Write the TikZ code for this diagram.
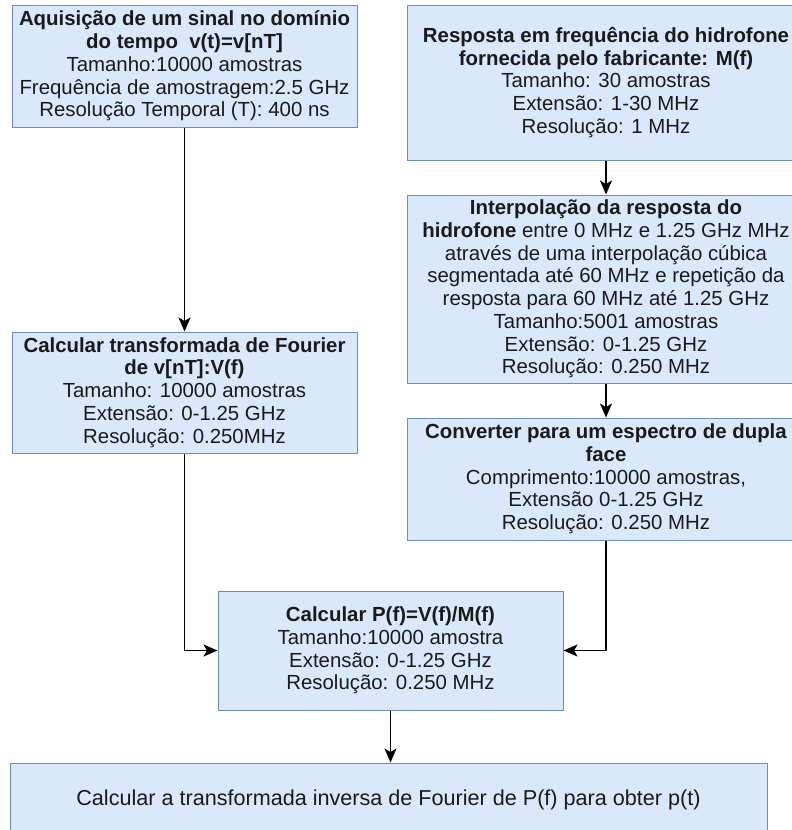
\documentclass[tikz,border=0pt]{standalone}
\usepackage{fontspec}
\setmainfont{Liberation Sans}
\usepackage{xcolor}
\usepackage{tikz}
\usetikzlibrary{arrows.meta,positioning,calc}
\definecolor{BoxFill}{HTML}{DAE8FC}
\definecolor{BoxLine}{HTML}{6C8EBF}
\definecolor{TextInk}{HTML}{1A1A1A}

\begin{document}
\begin{tikzpicture}[
    x=1pt,y=-1pt,
    block/.style={rectangle,draw=BoxLine,line width=1pt,fill=BoxFill,inner sep=0pt,align=center,
      text=TextInk,font=\fontsize{20.4pt}{22.75pt}\selectfont},
    arrow/.style={-{Stealth[length=14pt,width=12pt,inset=3.5pt]},line width=1.6pt,draw=black}
]
\useasboundingbox (0,0) rectangle (792,830);
\node[block,minimum width=345pt,minimum height=122pt] (acq) at (184.5,66)
  {\textbf{Aquisição de um sinal no domínio}\\\textbf{do tempo\ \ v(t)=v[nT]}\\Tamanho:10000 amostras\\Frequência de amostragem:2.5 GHz\\Resolução Temporal (T): 400 ns};
\node[block,minimum width=398pt,minimum height=155pt] (resp) at (606,82.5)
  {\textbf{Resposta em frequência do hidrofone}\\\textbf{fornecida pelo fabricante: M(f)}\\Tamanho: 30 amostras\\Extensão: 1-30 MHz\\Resolução: 1 MHz};
\node[block,minimum width=398pt,minimum height=188pt] (interp) at (606,289)
  {\textbf{Interpolação da resposta do}\\\textbf{hidrofone} entre 0 MHz e 1.25 GHz MHz\\através de uma interpolação cúbica\\segmentada até 60 MHz e repetição da\\resposta para 60 MHz até 1.25 GHz\\Tamanho:5001 amostras\\Extensão: 0-1.25 GHz\\Resolução: 0.250 MHz};
\node[block,minimum width=398pt,minimum height=122pt] (dupla) at (606,479)
  {\textbf{Converter para um espectro de dupla}\\\textbf{face}\\Comprimento:10000 amostras,\\Extensão 0-1.25 GHz\\Resolução: 0.250 MHz};
\node[block,minimum width=345pt,minimum height=121pt] (fft) at (184.5,392.5)
  {\textbf{Calcular transformada de Fourier}\\\textbf{de v[nT]:V(f)}\\Tamanho: 10000 amostras\\Extensão: 0-1.25 GHz\\Resolução: 0.250MHz};
\node[block,minimum width=345pt,minimum height=119pt] (ratio) at (390.5,650.5)
  {\textbf{Calcular P(f)=V(f)/M(f)}\\Tamanho:10000 amostra\\Extensão: 0-1.25 GHz\\Resolução: 0.250 MHz};
\node[block,minimum width=757pt,minimum height=74pt,font=\fontsize{21.6pt}{24pt}\selectfont] (inv) at (388.5,800)
  {Calcular a transformada inversa de Fourier de P(f) para obter p(t)};
\draw[arrow] (acq) -- (fft);
\draw[arrow] (resp) -- (interp);
\draw[arrow] (interp) -- (dupla);
\draw[arrow] (fft.south) |- (ratio.west);
\draw[arrow] (dupla.south) |- (ratio.east);
\draw[arrow] (ratio.south) -- (ratio.south |- inv.north);
\end{tikzpicture}
\end{document}
